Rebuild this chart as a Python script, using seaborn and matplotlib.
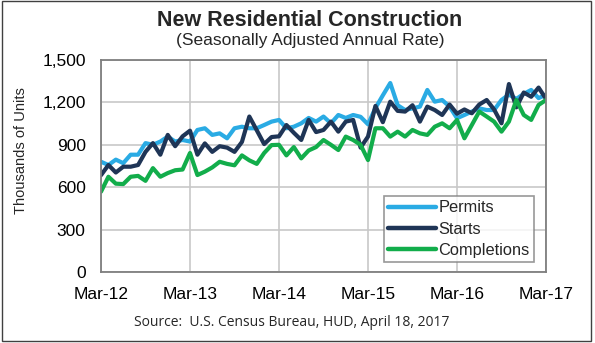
import numpy as np
import pandas as pd
import matplotlib
matplotlib.use("Agg")
import matplotlib.pyplot as plt
import seaborn as sns
from matplotlib.patches import Rectangle

tick_labels = ["Mar-12", "Mar-13", "Mar-14", "Mar-15", "Mar-16", "Mar-17"]

permits = [780, 757, 795, 770, 830, 830, 912, 900, 923, 958, 923, 934, 923,
           1005, 1017, 970, 981, 946, 1017, 1028, 1017, 1017, 1040, 1064, 1076,
           1017, 1028, 1052, 1090, 1064, 1100, 1052, 1111, 1090, 1111, 1098, 1045,
           1160, 1250, 1337, 1180, 1146, 1158, 1170, 1288, 1205, 1217, 1170, 1088,
           1111, 1135, 1158, 1146, 1146, 1217, 1255, 1225, 1260, 1288, 1230, 1255]
starts = [685, 757, 704, 745, 745, 757, 850, 912, 830, 970, 890, 960, 1000,
          830, 910, 850, 890, 880, 850, 920, 1100, 1003, 905, 955, 960,
          1040, 985, 934, 1076, 990, 1005, 1064, 993, 1064, 1076, 880, 958,
          1175, 1060, 1205, 1140, 1135, 1180, 1064, 1170, 1146, 1111, 1185, 1120,
          1150, 1123, 1185, 1217, 1150, 1052, 1330, 1165, 1270, 1240, 1305, 1225]
completions = [568, 674, 625, 622, 674, 680, 645, 735, 674, 700, 720, 725, 842,
               686, 710, 740, 780, 765, 755, 825, 790, 765, 842, 898, 900,
               825, 884, 804, 860, 884, 934, 900, 863, 958, 934, 900, 792,
               1017, 1017, 958, 993, 958, 1005, 981, 970, 1028, 1052, 1017, 1076,
               946, 1040, 1135, 1100, 1064, 993, 1064, 1217, 1111, 1076, 1182, 1217]

series_names = ["Permits", "Starts", "Completions"]
colors = ["#2AABE4", "#1F3556", "#12AD4B"]

n = len(permits)
df = pd.DataFrame({
    "month": list(range(n)) * 3,
    "value": permits + starts + completions,
    "series": sum([[s] * n for s in series_names], []),
})

sns.set_theme(style="white")
plt.rcParams["font.family"] = ["Liberation Sans", "DejaVu Sans"]

fig = plt.figure(figsize=(5.95, 3.43), dpi=100)
ax = fig.add_axes([101 / 595, 1 - 272 / 343, 445 / 595, 212 / 343])

sns.lineplot(data=df, x="month", y="value", hue="series", hue_order=series_names,
             palette=colors, linewidth=3.0, ax=ax, legend=False)

ax.set_xlim(0, 60)
ax.set_ylim(0, 1500)
ax.set_xticks(range(0, 61, 12))
ax.set_xticklabels(tick_labels, fontsize=12.5)
yt = list(range(0, 1501, 300))
ax.set_yticks(yt)
ax.set_yticklabels([f"{v:,}" for v in yt], fontsize=12.5)
ax.tick_params(axis="both", length=0, colors="black")
ax.tick_params(axis="y", pad=11)
ax.tick_params(axis="x", pad=11)
ax.grid(True, color="#C8C8C8", linewidth=1.2)
ax.set_axisbelow(True)
for sp in ax.spines.values():
    sp.set_color("#7F7F7F")
    sp.set_linewidth(1.3)
ax.set_xlabel("")
ax.set_ylabel("Thousands of Units", fontsize=10.5)
ax.yaxis.set_label_coords(-0.164, 0.571)

handles = [plt.Line2D([0], [0], color=c, linewidth=3.2) for c in colors]
leg = ax.legend(handles, series_names, loc="lower right",
                bbox_to_anchor=(0.972, 0.047), fontsize=11.8, frameon=True,
                fancybox=False, handlelength=2.9, handletextpad=0.15,
                labelspacing=0.38, borderpad=0.25, borderaxespad=0)
leg.get_frame().set_edgecolor("#7F7F7F")
leg.get_frame().set_linewidth(1.2)

fig.text(310 / 595, 1 - 20 / 343, "New Residential Construction", ha="center",
         va="center", fontsize=15.5, fontweight="bold")
fig.text(310 / 595, 1 - 40 / 343, "(Seasonally Adjusted Annual Rate)", ha="center",
         va="center", fontsize=12.5)
fig.text(292 / 595, 1 - 322 / 343, "Source:  U.S. Census Bureau, HUD, April 18, 2017",
         ha="center", va="center", fontsize=10, family=["Open Sans", "DejaVu Sans"])

fig.patches.append(Rectangle((0.004, 0.006), 0.99, 0.99, transform=fig.transFigure,
                             fill=False, edgecolor="#404040", linewidth=1.0))

fig.savefig("out.png", dpi=100)
